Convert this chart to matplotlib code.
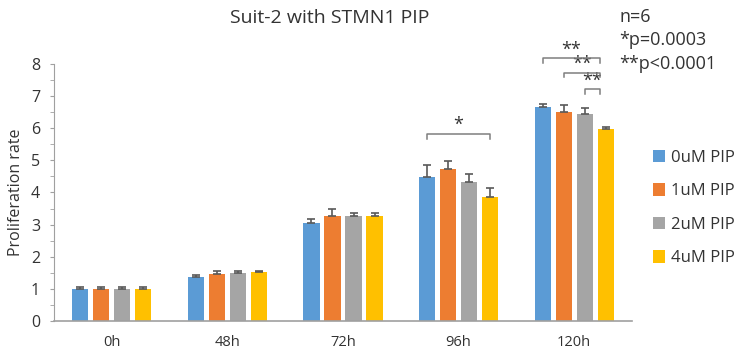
import numpy as np
import matplotlib.pyplot as plt

# data
categorias = ["0h", "48h", "72h", "96h", "120h"]
series = ["0uM PIP", "1uM PIP", "2uM PIP", "4uM PIP"]
pip_0 = [1.00, 1.37, 3.05, 4.49, 6.65]
pip_1 = [1.00, 1.46, 3.27, 4.74, 6.51]
pip_2 = [1.00, 1.50, 3.27, 4.33, 6.45]
pip_4 = [1.00, 1.53, 3.27, 3.86, 5.98]
err_0 = [0.06, 0.06, 0.12, 0.37, 0.09]
err_1 = [0.06, 0.09, 0.22, 0.25, 0.20]
err_2 = [0.06, 0.07, 0.10, 0.25, 0.18]
err_4 = [0.05, 0.04, 0.10, 0.28, 0.06]

valores = [pip_0, pip_1, pip_2, pip_4]
errores = [err_0, err_1, err_2, err_4]
colores = ["#5B9BD5", "#ED7D31", "#A5A5A5", "#FFC000"]

plt.rcParams["font.family"] = ["Open Sans", "DejaVu Sans"]
texto = "#333333"

fig = plt.figure(figsize=(7.41, 3.51), dpi=100)
ax = fig.add_axes([0.0729, 0.0855, 0.780, 0.7322])

x = np.arange(len(categorias))
ancho = 0.14
paso = 0.182
offsets = (np.arange(4) - 1.5) * paso

for i in range(4):
    ax.bar(x + offsets[i], valores[i], ancho, color=colores[i], label=series[i], zorder=2)
    ax.errorbar(x + offsets[i], valores[i], yerr=[np.zeros(5), errores[i]], fmt="none",
                ecolor="#595959", elinewidth=1.2, capsize=3, capthick=1.2, zorder=3)

ax.set_xlim(-0.5, len(categorias) - 0.5)
ax.set_ylim(0, 8)
ax.set_xticks(x)
ax.set_xticklabels(categorias)
ax.set_yticks(range(0, 9))
ax.set_yticks(np.arange(0, 8.5, 0.5), minor=True)
ax.tick_params(axis="x", length=0, labelsize=10.5, colors=texto, pad=10)
ax.tick_params(axis="y", which="both", length=3, labelsize=11.5, colors=texto, pad=7)
ax.tick_params(axis="y", which="both", color="#A0A0A0")
for lado in ["top", "right"]:
    ax.spines[lado].set_visible(False)
ax.spines["left"].set_color("#A0A0A0")
ax.spines["bottom"].set_color("#A0A0A0")
ax.spines["bottom"].set_linewidth(1.2)
ax.set_ylabel("Proliferation rate", fontsize=11.5, color=texto, labelpad=5)
fig.text(0.445, 0.948, "Suit-2 with STMN1 PIP", ha="center", va="center", fontsize=14, color=texto)


def corchete(x1, x2, y, etiqueta, caida=0.15):
    ax.plot([x1, x1, x2, x2], [y - caida, y, y, y - caida], color="#7F7F7F", lw=1.1,
            clip_on=False, zorder=4)
    ax.text((x1 + x2) / 2, y - 0.02, etiqueta, ha="center", va="bottom", fontsize=13,
            color=texto, clip_on=False)


# significance brackets
corchete(3 + offsets[0], 3 + offsets[3], 5.83, "*")
corchete(4 + offsets[0], 4 + offsets[3] - 0.05, 8.18, "**")
corchete(4 + offsets[1], 4 + offsets[3] - 0.05, 7.73, "**")
corchete(4 + offsets[2], 4 + offsets[3] - 0.05, 7.23, "**")

fig.text(0.836, 0.952, "n=6", ha="left", va="center", fontsize=13, color=texto)
fig.text(0.836, 0.886, "*p=0.0003", ha="left", va="center", fontsize=13, color=texto)
fig.text(0.836, 0.818, "**p<0.0001", ha="left", va="center", fontsize=13, color=texto)

leg = fig.legend(loc="upper left", bbox_to_anchor=(0.872, 0.592), frameon=False, fontsize=12,
                 handlelength=0.75, handleheight=0.75, handletextpad=0.35, labelspacing=1.05,
                 borderaxespad=0)
for t in leg.get_texts():
    t.set_color(texto)

fig.savefig("out.png", dpi=100)
